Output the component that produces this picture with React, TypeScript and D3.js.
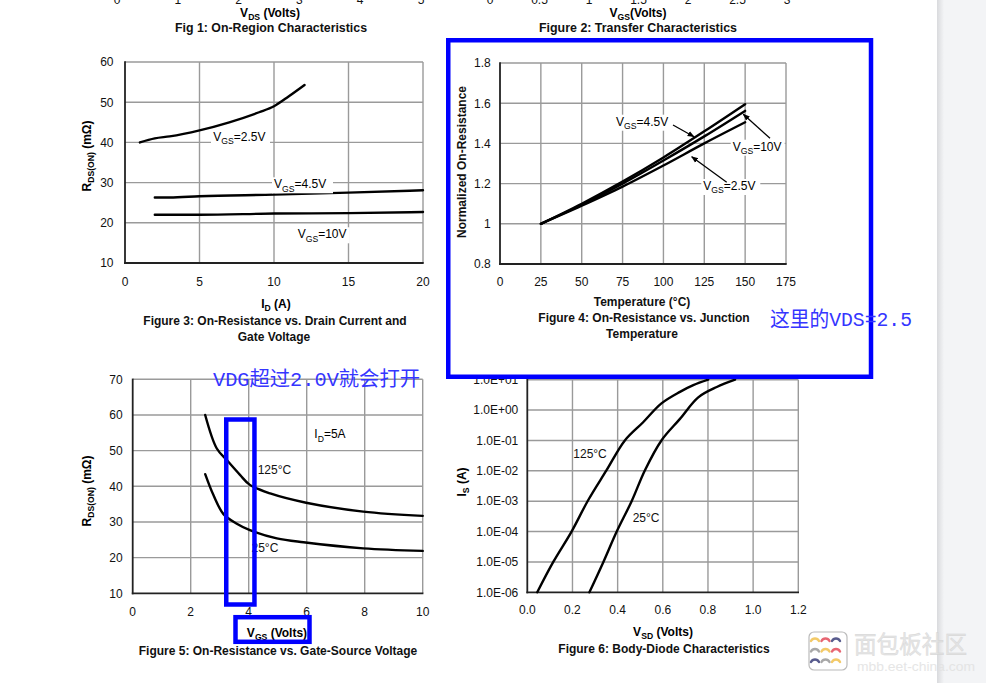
import React from "react";
import * as d3 from "d3";

const FONT = "'Liberation Sans', Arial, Helvetica, sans-serif";
const CJK = "'Liberation Mono', 'Noto Sans CJK SC', monospace";

// ---------- top fragments (Fig 1 / Fig 2 tick labels) ----------
const fig1Ticks = [0, 1, 2, 3, 4, 5];
const fig2Ticks = [0, 0.5, 1, 1.5, 2, 2.5, 3];

// ---------- Figure 3 ----------
const fig3XTicks = [0, 5, 10, 15, 20];
const fig3YTicks = [10, 20, 30, 40, 50, 60];
const fig3Id25 = [1, 2, 3, 5, 7, 9, 10, 11, 12.05];
const fig3R25 = [40, 41, 41.5, 43, 45, 47.5, 49, 51.5, 54.3];
const fig3Id45 = [2, 3, 5, 10, 15, 20];
const fig3R45 = [26.3, 26.3, 26.6, 27, 27.5, 28.1];
const fig3Id10 = [2, 5, 10, 15, 20];
const fig3R10 = [22, 22, 22.3, 22.4, 22.7];

// ---------- Figure 4 ----------
const fig4XTicks = [0, 25, 50, 75, 100, 125, 150, 175];
const fig4YTicks = [0.8, 1, 1.2, 1.4, 1.6, 1.8];
const fig4Temp = [25, 50, 75, 100, 125, 150];
const fig4Vgs45 = [1, 1.1, 1.21, 1.33, 1.46, 1.595];
const fig4Vgs10 = [1, 1.095, 1.2, 1.315, 1.435, 1.562];
const fig4Vgs25 = [1, 1.09, 1.185, 1.29, 1.4, 1.505];

// ---------- Figure 5 ----------
const fig5XTicks = [0, 2, 4, 6, 8, 10];
const fig5YTicks = [10, 20, 30, 40, 50, 60, 70];
const fig5V125 = [2.5, 2.9, 3.24, 3.7, 4.04, 4.74, 5.98, 7.95, 10];
const fig5R125 = [60, 50.6, 47.4, 43.2, 40.4, 38.0, 35.4, 32.9, 31.7];
const fig5V25 = [2.5, 2.78, 3.13, 3.59, 4.04, 4.97, 5.89, 7.95, 10];
const fig5R25 = [43.4, 37.6, 32.2, 29.5, 27.7, 25.4, 24.3, 22.6, 21.9];

// ---------- Figure 6 ----------
const fig6XTicks = [0, 0.2, 0.4, 0.6, 0.8, 1.0, 1.2];
const fig6YTicks = [1e-6, 1e-5, 1e-4, 1e-3, 1e-2, 1e-1, 1e0, 1e1];
const fig6YLabels = ["1.0E-06", "1.0E-05", "1.0E-04", "1.0E-03", "1.0E-02", "1.0E-01", "1.0E+00", "1.0E+01"];
const fig6V125 = [0.044, 0.115, 0.196, 0.27, 0.351, 0.432, 0.513, 0.594, 0.676, 0.735, 0.801];
const fig6Log125 = [-6, -5, -4, -2.96, -1.98, -1.0, -0.4, 0.22, 0.6, 0.82, 1.0];
const fig6V25 = [0.275, 0.337, 0.396, 0.462, 0.521, 0.594, 0.676, 0.757, 0.839, 0.92];
const fig6Log25 = [-6, -5, -4, -3.0, -1.98, -1.0, -0.29, 0.42, 0.76, 1.0];

const zip = (a: number[], b: number[]) => a.map((v, i) => [v, b[i]] as [number, number]);

function SubText({ x, y, parts, fs = 12, anchor = "start", bold = false, transform, fill = "#000" }: any) {
  let prevSub = false;
  return (
    <text x={x} y={y} fontSize={fs} textAnchor={anchor} fontWeight={bold ? "bold" : "normal"} fontFamily={FONT} transform={transform} fill={fill}>
      {parts.map((p: string, i: number) => {
        const isSub = p.startsWith("_");
        const t = isSub ? p.slice(1) : p;
        let dy = 0;
        if (isSub && !prevSub) dy = fs * 0.28;
        if (!isSub && prevSub) dy = -fs * 0.28;
        prevSub = isSub;
        return (
          <tspan key={i} dy={dy} fontSize={isSub ? fs * 0.72 : fs}>
            {t}
          </tspan>
        );
      })}
    </text>
  );
}

function Frame({ sx, sy, xTicks, yTicks }: any) {
  const [x0, x1] = sx.range();
  const [y0, y1] = sy.range(); // y0 bottom, y1 top
  return (
    <g>
      {xTicks.slice(1).map((t: number, i: number) => (
        <line key={"gx" + i} x1={sx(t)} x2={sx(t)} y1={y0} y2={y1} stroke="#9a9a9a" strokeWidth={1.4} />
      ))}
      {yTicks.slice(1).map((t: number, i: number) => (
        <line key={"gy" + i} x1={x0} x2={x1} y1={sy(t)} y2={sy(t)} stroke="#9a9a9a" strokeWidth={1.4} />
      ))}
      <line x1={x0} x2={x0} y1={y0 + 1} y2={y1 - 0.7} stroke="#222" strokeWidth={1.8} />
      <line x1={x0 - 0.9} x2={x1 + 0.7} y1={y0} y2={y0} stroke="#222" strokeWidth={1.8} />
    </g>
  );
}

function LabelBox({ x, y, w, h = 14 }: any) {
  return <rect x={x - 2} y={y - h + 3} width={w + 4} height={h + 2} fill="#fff" />;
}

const lineMono = d3.line<[number, number]>().curve(d3.curveMonotoneX);
const lineSmooth = d3.line<[number, number]>().curve(d3.curveCatmullRom.alpha(0.5));

export default function App() {
  // scales
  const f1 = d3.scaleLinear().domain([0, 5]).range([117, 421]);
  const f2 = d3.scaleLinear().domain([0, 3]).range([490, 787]);

  const sx3 = d3.scaleLinear().domain([0, 20]).range([125, 423]);
  const sy3 = d3.scaleLinear().domain([10, 60]).range([263, 62]);
  const sx4 = d3.scaleLinear().domain([0, 175]).range([500, 786]);
  const sy4 = d3.scaleLinear().domain([0.8, 1.8]).range([264, 63]);
  const sx5 = d3.scaleLinear().domain([0, 10]).range([132.7, 422.7]);
  const sy5 = d3.scaleLinear().domain([10, 70]).range([593.3, 379.3]);
  const sx6 = d3.scaleLinear().domain([0, 1.2]).range([527.3, 798.3]);
  const sy6 = d3.scaleLog().domain([1e-6, 10]).range([592.3, 379.7]);

  const path = (sx: any, sy: any, xs: number[], ys: number[], gen = lineMono) =>
    gen.x((d) => sx(d[0])).y((d) => sy(d[1]))(zip(xs, ys)) || "";
  const path6 = (xs: number[], ls: number[]) =>
    lineSmooth.x((d) => sx6(d[0])).y((d) => sy6(Math.pow(10, d[1])))(zip(xs, ls)) || "";

  const curve = { fill: "none", stroke: "#000", strokeWidth: 2.4, strokeLinejoin: "round" as const, strokeLinecap: "round" as const };
  const tick = { fontSize: 12, fontFamily: FONT, fill: "#111" };
  const title = { fontSize: 12, fontFamily: FONT, fontWeight: "bold" as const, fill: "#111", textAnchor: "middle" as const };

  return (
    <div style={{ position: "fixed", left: 0, top: 0, width: 986, height: 683, background: "#fff" }}>
      <svg width={986} height={683} viewBox="0 0 986 683" style={{ display: "block" }}>
        <defs>
          <marker id="arr" viewBox="0 0 10 10" refX="9" refY="5" markerWidth="7" markerHeight="7" orient="auto-start-reverse" markerUnits="userSpaceOnUse">
            <path d="M0,1 L10,5 L0,9 z" fill="#000" />
          </marker>
          <linearGradient id="shadow" x1="0" x2="1" y1="0" y2="0">
            <stop offset="0" stopColor="#d9dadd" />
            <stop offset="1" stopColor="#f3f4f6" />
          </linearGradient>
        </defs>
        <rect x={0} y={0} width={986} height={683} fill="#fff" />

        {/* ---------- top fragments ---------- */}
        {fig1Ticks.map((t) => (
          <text key={"f1" + t} x={f1(t)} y={3.5} textAnchor="middle" {...tick}>{t}</text>
        ))}
        {fig2Ticks.map((t) => (
          <text key={"f2" + t} x={f2(t)} y={3.5} textAnchor="middle" {...tick}>{t}</text>
        ))}
        <SubText x={270} y={17} anchor="middle" bold fs={12} parts={["V", "_DS", " (Volts)"]} />
        <SubText x={638} y={17} anchor="middle" bold fs={12} parts={["V", "_GS", "(Volts)"]} />
        <text x={175} y={32} {...title} textAnchor="start" textLength={192} lengthAdjust="spacingAndGlyphs">Fig 1: On-Region Characteristics</text>
        <text x={539} y={32} {...title} textAnchor="start" textLength={198} lengthAdjust="spacingAndGlyphs">Figure 2: Transfer Characteristics</text>

        {/* ---------- Figure 3 ---------- */}
        <Frame sx={sx3} sy={sy3} xTicks={fig3XTicks} yTicks={fig3YTicks} />
        {fig3YTicks.map((t) => (
          <text key={"y3" + t} x={113.5} y={sy3(t) + 4.3} textAnchor="end" {...tick}>{t}</text>
        ))}
        {fig3XTicks.map((t) => (
          <text key={"x3" + t} x={sx3(t)} y={286} textAnchor="middle" {...tick}>{t}</text>
        ))}
        <path d={path(sx3, sy3, fig3Id25, fig3R25)} {...curve} />
        <path d={path(sx3, sy3, fig3Id45, fig3R45)} {...curve} />
        <path d={path(sx3, sy3, fig3Id10, fig3R10)} {...curve} />
        <LabelBox x={213} y={141} w={55} />
        <SubText x={213.3} y={140.7} parts={["V", "_GS", "=2.5V"]} />
        <LabelBox x={274} y={188.3} w={57} />
        <SubText x={274} y={188.3} parts={["V", "_GS", "=4.5V"]} />
        <LabelBox x={297.7} y={238.3} w={50} />
        <SubText x={297.7} y={238.3} parts={["V", "_GS", "=10V"]} />
        <SubText transform="translate(91,156) rotate(-90)" x={0} y={0} anchor="middle" bold parts={["R", "_DS(ON)", " (m\u03A9)"]} />
        <SubText x={276} y={308} anchor="middle" bold parts={["I", "_D", " (A)"]} />
        <text x={275} y={325} {...title}>Figure 3: On-Resistance vs. Drain Current and</text>
        <text x={274} y={341} {...title}>Gate Voltage</text>

        {/* ---------- Figure 4 ---------- */}
        <Frame sx={sx4} sy={sy4} xTicks={fig4XTicks} yTicks={fig4YTicks} />
        {fig4YTicks.map((t) => (
          <text key={"y4" + t} x={490.7} y={sy4(t) + 4.3} textAnchor="end" {...tick}>{t}</text>
        ))}
        {fig4XTicks.map((t) => (
          <text key={"x4" + t} x={sx4(t)} y={286} textAnchor="middle" {...tick}>{t}</text>
        ))}
        <path d={path(sx4, sy4, fig4Temp, fig4Vgs25)} {...curve} />
        <path d={path(sx4, sy4, fig4Temp, fig4Vgs10)} {...curve} />
        <path d={path(sx4, sy4, fig4Temp, fig4Vgs45)} {...curve} />
        <LabelBox x={616} y={125.7} w={55} />
        <SubText x={616} y={125.7} parts={["V", "_GS", "=4.5V"]} />
        <LabelBox x={732.7} y={150.7} w={50} />
        <SubText x={732.7} y={150.7} parts={["V", "_GS", "=10V"]} />
        <LabelBox x={703.3} y={190} w={55} />
        <SubText x={703.3} y={190} parts={["V", "_GS", "=2.5V"]} />
        <line x1={673} y1={125} x2={694} y2={136.7} stroke="#000" strokeWidth={1.3} markerEnd="url(#arr)" />
        <line x1={770} y1={138.3} x2={743.3} y2={114.3} stroke="#000" strokeWidth={1.3} markerEnd="url(#arr)" />
        <line x1={726.7} y1={182.3} x2={691.7} y2={156.7} stroke="#000" strokeWidth={1.3} markerEnd="url(#arr)" />
        <text transform="translate(466,162) rotate(-90)" x={0} y={0} {...title}>Normalized On-Resistance</text>
        <text x={642} y={306} {...title}>Temperature (°C)</text>
        <text x={644} y={322} {...title}>Figure 4: On-Resistance vs. Junction</text>
        <text x={642} y={338} {...title}>Temperature</text>

        {/* ---------- Figure 5 ---------- */}
        <Frame sx={sx5} sy={sy5} xTicks={fig5XTicks} yTicks={fig5YTicks} />
        {fig5YTicks.map((t) => (
          <text key={"y5" + t} x={122.7} y={sy5(t) + 4.3} textAnchor="end" {...tick}>{t}</text>
        ))}
        {fig5XTicks.map((t) => (
          <text key={"x5" + t} x={sx5(t)} y={616} textAnchor="middle" {...tick}>{t}</text>
        ))}
        <path d={path(sx5, sy5, fig5V125, fig5R125, lineSmooth)} {...curve} />
        <path d={path(sx5, sy5, fig5V25, fig5R25, lineSmooth)} {...curve} />
        <SubText x={314.3} y={438.3} parts={["I", "_D", "=5A"]} />
        <text x={257.7} y={474} {...tick}>125°C</text>
        <text x={251.5} y={552.3} {...tick}>25°C</text>
        <SubText transform="translate(91,491) rotate(-90)" x={0} y={0} anchor="middle" bold parts={["R", "_DS(ON)", " (m\u03A9)"]} />
        <SubText x={277} y={637} anchor="middle" bold parts={["V", "_GS", " (Volts)"]} />
        <text x={278} y={655} {...title}>Figure 5: On-Resistance vs. Gate-Source Voltage</text>

        {/* ---------- Figure 6 ---------- */}
        <Frame sx={sx6} sy={sy6} xTicks={fig6XTicks} yTicks={fig6YTicks} />
        {fig6YTicks.map((t, i) => (
          <text key={"y6" + i} x={518.3} y={sy6(t) + 4.3} textAnchor="end" {...tick}>{fig6YLabels[i]}</text>
        ))}
        {fig6XTicks.map((t) => (
          <text key={"x6" + t} x={sx6(t)} y={614} textAnchor="middle" {...tick}>{t.toFixed(1)}</text>
        ))}
        <path d={path6(fig6V125, fig6Log125)} {...curve} />
        <path d={path6(fig6V25, fig6Log25)} {...curve} />
        <text x={573.3} y={458.3} {...tick}>125°C</text>
        <text x={632.7} y={522.3} {...tick}>25°C</text>
        <SubText transform="translate(466,482) rotate(-90)" x={0} y={0} anchor="middle" bold parts={["I", "_S", " (A)"]} />
        <SubText x={663} y={636} anchor="middle" bold parts={["V", "_SD", " (Volts)"]} />
        <text x={664} y={653} {...title}>Figure 6: Body-Diode Characteristics</text>

        {/* ---------- annotations ---------- */}
        <rect x={448.25} y={40.25} width={422.75} height={336.5} fill="none" stroke="#0000ff" strokeWidth={4.5} />
        <rect x={226.25} y={419.5} width={28.2} height={185} fill="none" stroke="#0000ff" strokeWidth={4.5} />
        <rect x={235.5} y={617.2} width={74} height={24.6} fill="none" stroke="#0000ff" strokeWidth={4.5} />
        <text x={213} y={386} fontFamily={CJK} fontSize={20} fill="#3535ff" textLength={207} lengthAdjust="spacingAndGlyphs">VDG超过2.0V就会打开</text>
        <text x={770} y={326} fontFamily={CJK} fontSize={21} fill="#3535ff" textLength={142} lengthAdjust="spacingAndGlyphs">这里的VDS=2.5</text>

        {/* ---------- right grey strip ---------- */}
        <rect x={937} y={0} width={49} height={683} fill="#f3f4f6" />
        <rect x={937} y={0} width={7} height={683} fill="url(#shadow)" />

        {/* ---------- watermark ---------- */}
        <g opacity={0.85}>
          <rect x={809} y={632} width={38} height={38} rx={5} fill="#fff" stroke="#b0b0b0" strokeWidth={1.2} />
          {[0, 1, 2].map((r) =>
            [0, 1, 2].map((c) => {
              const cols = ["#f2c14e", "#e34b5a", "#3b3f7a", "#9a9a9a"];
              const col = cols[(r * 3 + c) % 4];
              const cx = 815 + c * 10.5;
              const cy = 639 + r * 10.5;
              return (
                <path key={r + "-" + c} d={`M${cx - 4},${cy + 2} A4.5,4.5 0 0 1 ${cx + 4},${cy + 2}`} fill="none" stroke={col} strokeWidth={2.4} strokeLinecap="round" />
              );
            })
          )}
          <text x={854} y={653} fontFamily="'Noto Sans CJK SC', sans-serif" fontSize={24} fill="#e2e2e2" stroke="#cfcfcf" strokeWidth={0.4} textLength={113} lengthAdjust="spacingAndGlyphs">面包板社区</text>
          <text x={857} y={671} fontFamily={FONT} fontSize={12} fill="#e2e2e2" textLength={118} lengthAdjust="spacingAndGlyphs">mbb.eet-china.com</text>
        </g>
      </svg>
    </div>
  );
}
